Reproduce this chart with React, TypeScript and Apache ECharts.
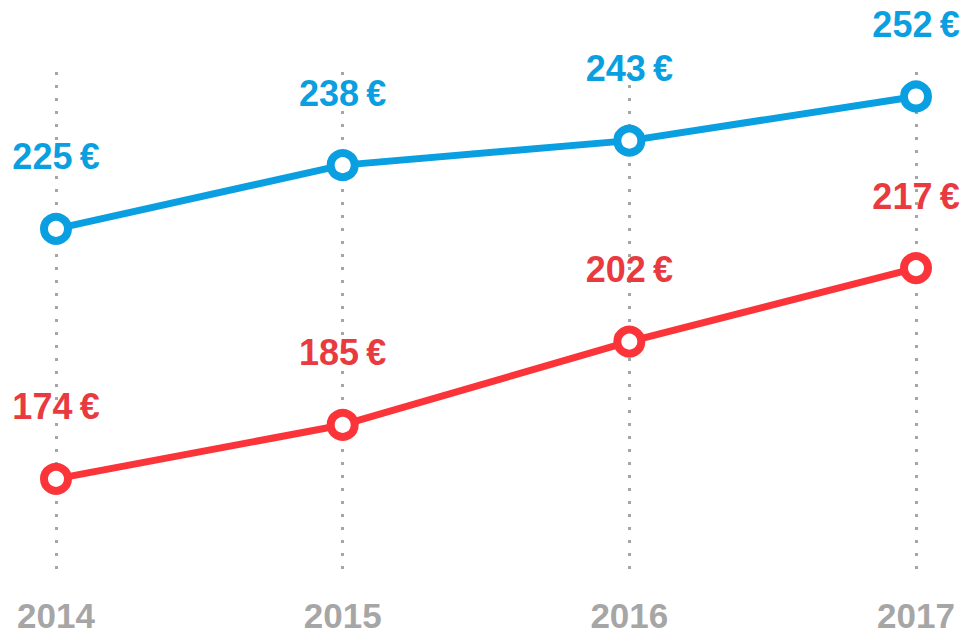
import React, { useEffect, useRef } from "react";
import * as echarts from "echarts";

const years = ["2014", "2015", "2016", "2017"];
const blueValues = [225, 238, 243, 252];
const redValues = [174, 185, 202, 217];

const BLUE = "#0a9fe0";
const RED = "#fb3439";
const RED_LABEL = "#e83a3f";

export default function App() {
  const ref = useRef<HTMLDivElement>(null);
  useEffect(() => {
    if (!ref.current) return;
    const chart = echarts.init(ref.current, undefined, { renderer: "svg" });
    const mkSeries = (data: number[], color: string, labelColor: string) => ({
      type: "line",
      data,
      symbol: "circle",
      symbolSize: 24,
      lineStyle: { color, width: 7 },
      itemStyle: { color: "#ffffff", borderColor: color, borderWidth: 8 },
      label: {
        show: true,
        position: "top",
        distance: 38,
        formatter: (p: any) => `${p.value}\u2009€`,
        color: labelColor,
        fontSize: 36,
        fontWeight: "bold",
        fontFamily: "Liberation Sans, Arial, sans-serif",
      },
      z: 3,
    });
    chart.setOption({
      animation: false,
      grid: { left: 56, right: 51, top: 72, bottom: 65, containLabel: false },
      xAxis: {
        type: "category",
        data: years,
        boundaryGap: false,
        axisLine: { show: false },
        axisTick: { show: false },
        splitLine: {
          show: true,
          lineStyle: { color: "#a6a6a6", width: 3, type: [3, 10] },
        },
        axisLabel: {
          color: "#a6a6a6",
          fontSize: 35,
          lineHeight: 30,
          fontWeight: "bold",
          fontFamily: "Liberation Sans, Arial, sans-serif",
          margin: 28,
          showMinLabel: true,
          showMaxLabel: true,
          interval: 0,
        },
      },
      yAxis: {
        type: "value",
        min: 155,
        max: 257,
        show: false,
        splitLine: { show: false },
      },
      series: [mkSeries(blueValues, BLUE, BLUE), mkSeries(redValues, RED, RED_LABEL)],
    });
    return () => chart.dispose();
  }, []);
  return <div ref={ref} style={{ width: 967, height: 637, position: "absolute", left: 0, top: 0, background: "#fff" }} />;
}
